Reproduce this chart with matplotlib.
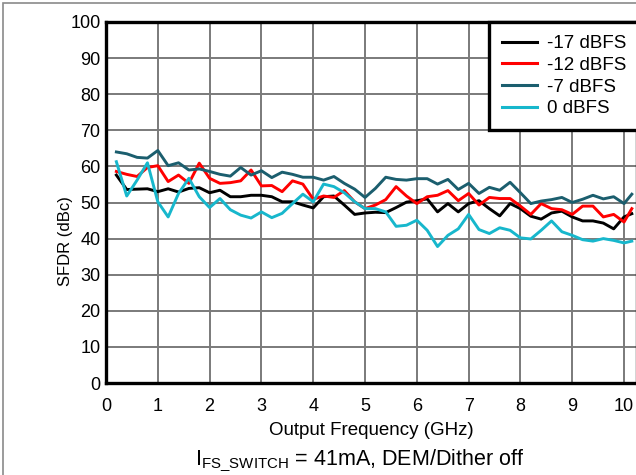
import matplotlib
matplotlib.use("Agg")
import matplotlib.pyplot as plt
from matplotlib.patches import Rectangle

plt.rcParams['font.family'] = ['Liberation Sans', 'DejaVu Sans']
plt.rcParams['mathtext.fontset'] = 'custom'
plt.rcParams['mathtext.rm'] = 'Liberation Sans'

freq = [0.2, 0.4, 0.6, 0.8, 1.0, 1.2, 1.4, 1.6, 1.8, 2.0,
        2.2, 2.4, 2.6, 2.8, 3.0, 3.2, 3.4, 3.6, 3.8, 4.0,
        4.2, 4.4, 4.6, 4.8, 5.0, 5.2, 5.4, 5.6, 5.8, 6.0,
        6.2, 6.4, 6.6, 6.8, 7.0, 7.2, 7.4, 7.6, 7.8, 8.0,
        8.2, 8.4, 8.6, 8.8, 9.0, 9.2, 9.4, 9.6, 9.8, 10.0, 10.15]

sfdr_m17 = [57.6, 53.6, 53.7, 53.8, 53.0, 53.8, 52.9, 53.9, 54.1, 52.7,
            53.4, 51.6, 51.6, 52.0, 52.0, 51.6, 50.2, 50.2, 49.3, 48.5,
            51.6, 51.8, 49.3, 46.7, 47.1, 47.3, 47.2, 48.6, 50.1, 50.5,
            51.0, 47.4, 49.7, 47.4, 49.7, 50.5, 48.3, 46.3, 49.7, 48.3,
            46.2, 45.4, 47.1, 47.6, 46.0, 44.9, 44.9, 44.3, 42.7, 46.0, 46.9]

sfdr_m12 = [58.6, 57.8, 57.2, 59.7, 60.2, 55.8, 57.6, 55.3, 60.9, 56.7,
            55.3, 55.5, 56.0, 59.0, 54.6, 54.7, 53.0, 56.0, 55.1, 50.9,
            51.8, 51.4, 53.3, 50.2, 48.3, 49.3, 50.8, 54.4, 51.8, 49.7,
            51.6, 52.0, 53.3, 50.5, 52.5, 49.3, 51.4, 51.1, 51.1, 49.0,
            46.7, 49.7, 48.3, 48.0, 46.7, 49.0, 49.0, 46.0, 46.7, 44.6, 48.3]

sfdr_m7 = [64.0, 63.5, 62.5, 62.3, 64.4, 60.2, 61.0, 59.0, 59.3, 58.6,
           57.8, 57.3, 59.7, 57.6, 58.8, 56.9, 58.4, 57.8, 57.0, 57.0,
           56.2, 57.2, 55.3, 53.7, 51.4, 53.9, 57.0, 56.4, 56.2, 56.6,
           56.6, 55.1, 56.4, 53.6, 55.3, 52.5, 54.2, 53.4, 55.6, 52.7,
           49.7, 50.4, 50.8, 51.4, 50.0, 50.9, 52.0, 51.0, 51.6, 49.7, 52.3]

sfdr_0 = [61.3, 51.8, 56.2, 61.0, 50.2, 46.0, 52.5, 56.7, 51.6, 48.6,
          51.1, 48.0, 46.5, 45.7, 47.4, 45.8, 47.0, 49.7, 52.3, 50.2,
          55.1, 54.4, 52.7, 50.2, 48.3, 48.3, 47.4, 43.4, 43.7, 45.1,
          42.3, 37.8, 40.9, 42.7, 46.7, 42.5, 41.4, 43.0, 42.3, 40.2,
          39.9, 42.3, 44.9, 41.9, 40.9, 39.7, 39.3, 40.0, 39.5, 38.8, 39.3]

series = [("-17 dBFS", sfdr_m17, "#000000"),
          ("-12 dBFS", sfdr_m12, "#FF0000"),
          ("-7 dBFS", sfdr_m7, "#1B5E6E"),
          ("0 dBFS", sfdr_0, "#17B7CC")]

W, H = 636, 475
fig = plt.figure(figsize=(W / 100, H / 100), dpi=100)
ax = fig.add_axes([106 / W, (H - 383) / H, 531 / W, 361 / H])

for label, vals, color in series:
    ax.plot(freq, vals, color=color, lw=2.1, label=label)

ax.set_xlim(0, 10.25)
ax.set_ylim(0, 100)
ax.set_xticks(range(0, 11))
ax.set_yticks(range(0, 101, 10))
ax.grid(True, color="#7a7a7a", lw=1.4)
ax.set_axisbelow(True)
ax.tick_params(length=0, labelsize=13)
ax.tick_params(axis="y", pad=4)
ax.tick_params(axis="x", pad=11)
for s in ax.spines.values():
    s.set_linewidth(2.4)
    s.set_color("black")

ax.set_xlabel("Output Frequency (GHz)", fontsize=13.5, labelpad=5)
ax.set_ylabel("SFDR (dBc)", fontsize=12)
ax.yaxis.set_label_coords((73 - 106) / 531, (383 - 241) / 361)

leg = ax.legend(loc="upper left", bbox_to_anchor=(0.721, 1.0), borderaxespad=0,
                fontsize=13.5, fancybox=False, framealpha=1, edgecolor="black",
                handlelength=1.85, handletextpad=0.55, labelspacing=0.24,
                borderpad=0.7)
leg.get_frame().set_linewidth(2.4)
for h in leg.get_lines():
    h.set_linewidth(2.2)

fig.text(360 / W, (H - 461) / H,
         r"I$_{\mathregular{FS\_SWITCH}}$ = 41mA, DEM/Dither off",
         ha="center", va="center", fontsize=15.5)

fig.add_artist(Rectangle((3 / W, -0.1), 1.2, (H - 3) / H + 0.1, transform=fig.transFigure,
                         fill=False, edgecolor="#8a8a8a", lw=1.2))

fig.savefig("out.png", dpi=100)
